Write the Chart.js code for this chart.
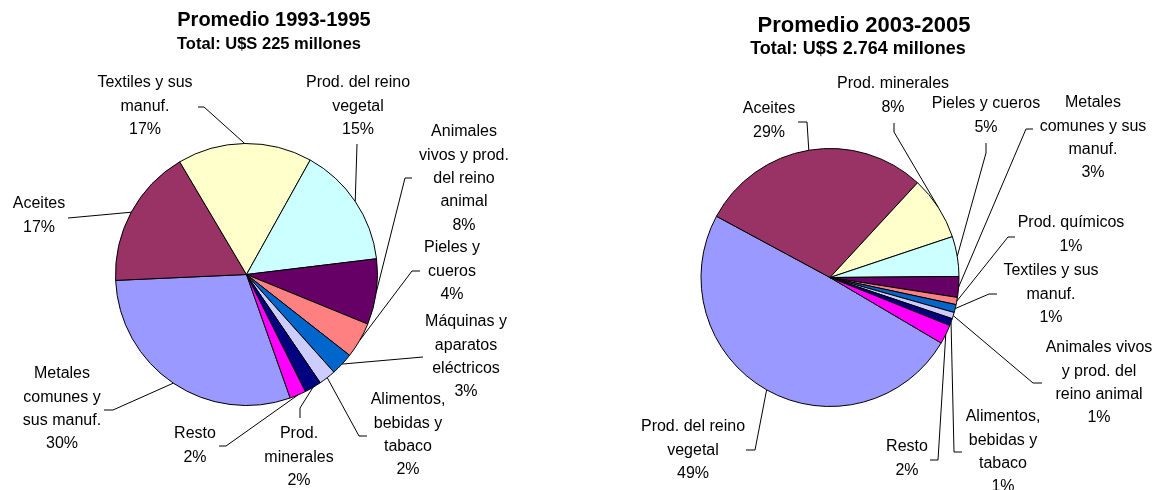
<!DOCTYPE html>
<html>
<head>
<meta charset="utf-8">
<script src="https://cdn.jsdelivr.net/npm/chart.js@4.4.1/dist/chart.umd.min.js"></script>
<style>
  body { margin: 0; background: #fff; }
  .wrap { display: flex; width: 1154px; height: 490px; }
  canvas { display: block; }
</style>
</head>
<body>
<div class="wrap">
  <canvas id="chart1993" width="577" height="490"></canvas>
  <canvas id="chart2003" width="577" height="490"></canvas>
</div>
<script>
// Data (shares in % of total exports)
const categories1993 = [
  ['Metales', 'comunes y', 'sus manuf.'],
  ['Aceites'],
  ['Textiles y sus', 'manuf.'],
  ['Prod. del reino', 'vegetal'],
  ['Animales', 'vivos y prod.', 'del reino', 'animal'],
  ['Pieles y', 'cueros'],
  ['Máquinas y', 'aparatos', 'eléctricos'],
  ['Alimentos,', 'bebidas y', 'tabaco'],
  ['Prod.', 'minerales'],
  ['Resto']
];
const shares1993 = [29.7, 17.2, 16.6, 15.0, 8.1, 4.4, 2.8, 2.1, 2.1, 2.0];

const categories2003 = [
  ['Prod. del reino', 'vegetal'],
  ['Aceites'],
  ['Prod. minerales'],
  ['Pieles y cueros'],
  ['Metales', 'comunes y sus', 'manuf.'],
  ['Prod. químicos'],
  ['Textiles y sus', 'manuf.'],
  ['Animales vivos', 'y prod. del', 'reino animal'],
  ['Alimentos,', 'bebidas y', 'tabaco'],
  ['Resto']
];
const shares2003 = [49.4, 29.0, 8.0, 5.0, 2.6, 0.9, 1.0, 0.8, 0.9, 2.4];

const sliceColors = ['#9999FF', '#993366', '#FFFFCC', '#CCFFFF', '#660066',
                     '#FF8080', '#0066CC', '#CCCCFF', '#000080', '#FF00FF'];

// label placement: text centre (x, first line y), leader elbow and end
const labelLayout1993 = [
  { x: 62,  y: 374, elbow: [113, 410], end: [104, 410] },
  { x: 39,  y: 204, elbow: [68, 218],  end: [68, 218] },
  { x: 145, y: 83,  elbow: [204, 107], end: [198, 107] },
  { x: 358, y: 83,  elbow: [357, 144], end: [357, 144] },
  { x: 464, y: 132, elbow: [405, 178], end: [412, 178] },
  { x: 452, y: 248, elbow: [412, 271], end: [420, 271] },
  { x: 466, y: 322, elbow: [423, 357], end: [423, 357] },
  { x: 408, y: 400, elbow: [359, 436], end: [367, 436] },
  { x: 299, y: 434, elbow: [300, 408], end: [300, 418] },
  { x: 195, y: 434, elbow: [226, 446], end: [219, 446] }
];
const labelLayout2003 = [
  { x: 116, y: 427, elbow: [178, 450], end: [169, 450] },
  { x: 192, y: 109, elbow: [230, 122], end: [221, 122] },
  { x: 316, y: 84,  elbow: [317, 132], end: [317, 123] },
  { x: 409, y: 104, elbow: [409, 153], end: [409, 143] },
  { x: 516, y: 103, elbow: [449, 129], end: [456, 129] },
  { x: 494, y: 223, elbow: [431, 237], end: [438, 237] },
  { x: 474, y: 271, elbow: [412, 294], end: [420, 294] },
  { x: 522, y: 348, elbow: [456, 383], end: [465, 383] },
  { x: 426, y: 417, elbow: [377, 452], end: [385, 452] },
  { x: 330, y: 447, elbow: [361, 460], end: [353, 460] }
];

const FONT = '"Liberation Sans", Arial, sans-serif';
const LABEL_FONT = '16px ' + FONT;
const LINE_H = 23.3;

// Leader lines, labels and titles
const pieLabelsPlugin = {
  id: 'pieLabels',
  afterDraw(chart, args, opts) {
    const ctx = chart.ctx;
    const meta = chart.getDatasetMeta(0);
    const values = chart.data.datasets[0].data;
    ctx.save();
    ctx.strokeStyle = '#000';
    ctx.fillStyle = '#000';
    ctx.lineWidth = 1;
    ctx.textAlign = 'center';
    ctx.textBaseline = 'middle';
    meta.data.forEach((arc, i) => {
      const lay = opts.layout[i];
      const p = arc.getProps(['x', 'y', 'startAngle', 'endAngle', 'outerRadius'], true);
      const mid = (p.startAngle + p.endAngle) / 2;
      ctx.beginPath();
      ctx.moveTo(p.x + Math.cos(mid) * p.outerRadius, p.y + Math.sin(mid) * p.outerRadius);
      ctx.lineTo(lay.elbow[0], lay.elbow[1]);
      ctx.lineTo(lay.end[0], lay.end[1]);
      ctx.stroke();
      const lines = [].concat(chart.data.labels[i], Math.round(values[i]) + '%');
      ctx.font = LABEL_FONT;
      lines.forEach((t, k) => ctx.fillText(t, lay.x, lay.y + k * LINE_H));
    });
    ctx.font = 'bold ' + opts.title.size + 'px ' + FONT;
    ctx.fillText(opts.title.text, opts.title.x, opts.title.y);
    ctx.font = 'bold ' + opts.subtitle.size + 'px ' + FONT;
    ctx.fillText(opts.subtitle.text, opts.subtitle.x, opts.subtitle.y);
    ctx.restore();
  }
};

function makePie(id, labels, values, rotation, radius, padding, layout, title, subtitle) {
  return new Chart(document.getElementById(id), {
    type: 'pie',
    data: {
      labels: labels,
      datasets: [{
        data: values,
        backgroundColor: sliceColors,
        borderColor: '#000',
        borderWidth: 1,
        radius: radius
      }]
    },
    options: {
      responsive: false,
      animation: false,
      rotation: rotation,
      layout: { padding: padding },
      plugins: {
        legend: { display: false },
        tooltip: { enabled: false },
        pieLabels: { layout: layout, title: title, subtitle: subtitle }
      }
    },
    plugins: [pieLabelsPlugin]
  });
}

makePie('chart1993', categories1993, shares1993, 160.5, 131,
  { left: 0, right: 84, top: 59, bottom: 0 }, labelLayout1993,
  { text: 'Promedio 1993-1995', x: 274, y: 20, size: 20 },
  { text: 'Total: U$S 225 millones', x: 269, y: 44, size: 16.5 });

makePie('chart2003', categories2003, shares2003, 120.5, 129,
  { left: 0, right: 71, top: 65, bottom: 0 }, labelLayout2003,
  { text: 'Promedio 2003-2005', x: 287, y: 26, size: 22 },
  { text: 'Total: U$S 2.764 millones', x: 281, y: 49, size: 18 });
</script>
</body>
</html>
